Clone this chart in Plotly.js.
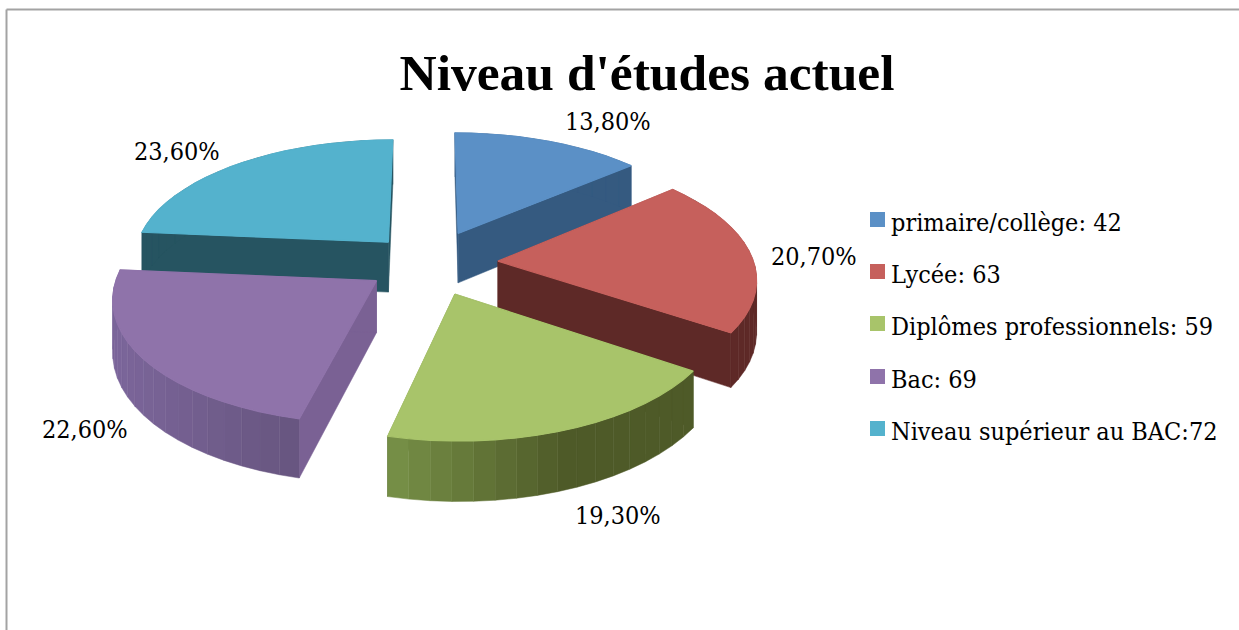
<!DOCTYPE html>
<html><head><meta charset="utf-8">
<script src="https://cdn.plot.ly/plotly-3.0.1.min.js"></script>
<style>html,body{margin:0;padding:0;background:#fff}#c{width:1239px;height:630px}</style>
</head><body><div id="c"></div>
<script>
const categories = ["primaire/collège: 42","Lycée: 63","Diplômes professionnels: 59","Bac: 69","Niveau supérieur au BAC:72"];
const values = [42,63,59,69,72];
const percentLabels = ["13,80%","20,70%","19,30%","22,60%","23,60%"];
const topColors = ["#5b90c6","#c6605c","#a8c46a","#8f73aa","#54b2cd"];
const sideColors = ["#355a80","#5e2927","#4e5a28","#7a6194","#265461"];
const titleText = "Niveau d'études actuel";

// projection of the tilted, exploded pie
const FONT = "'DejaVu Serif Condensed', 'Liberation Serif', serif";
const TITLE_FONT = "'Liberation Serif', serif";
const cx=429, cy=263, A=256, B=120, K=0.125, DEPTH=51;
const pull=[0.28,0.27,0.27,0.248,0.24];
const total=values.reduce((a,b)=>a+b,0);
function proj(u,v,d){const w=1+K*v;return [cx+A*u/w, cy+(-B*v+(d?DEPTH:0))/w];}
const traces=[];
function poly(pts,color,width,name){
  traces.push({type:'scatter',mode:'lines',x:pts.map(p=>p[0]),y:pts.map(p=>p[1]),fill:'toself',fillcolor:color,
    line:{color:color,width:width},hoverinfo:'skip',showlegend:false,name:name||''});
}
function hex(c){return [1,3,5].map(i=>parseInt(c.substr(i,2),16));}
function mix(a,b,t){const A1=hex(a),B1=hex(b);return 'rgb('+A1.map((x,i)=>Math.round(x+(B1[i]-x)*t)).join(',')+')';}
function wallColor(i,x){
  if(i===2){const t=Math.min(1,Math.max(0,(x-387)/178));return mix("#789148","#4e5a28",t);}
  if(i===3){const t=Math.min(1,Math.max(0,(x-110)/190));return mix("#7c669b","#67557f",t);}
  return sideColors[i];
}
let acc=0;const slices=values.map((val,i)=>{const a0=acc/total*2*Math.PI;acc+=val;const a1=acc/total*2*Math.PI;return {i,a0,a1};});
const order=[0,4,1,3,2];
order.forEach(i=>{
  const {a0,a1}=slices[i];
  const mid=(a0+a1)/2, ou=pull[i]*Math.sin(mid), ov=pull[i]*Math.cos(mid);
  const n=Math.max(8,Math.round((a1-a0)/(Math.PI/45)));
  const arc=[];for(let k=0;k<=n;k++){const t=a0+(a1-a0)*k/n;arc.push([ou+Math.sin(t),ov+Math.cos(t)]);}
  const ap=proj(ou,ov,0), apb=proj(ou,ov,1);
  // radial sides first: a hidden one ends up under the wall or the top
  [arc[0],arc[n]].forEach(e=>{
    const a=proj(e[0],e[1],0),b=proj(e[0],e[1],1);
    poly([ap,a,b,apb,ap],sideColors[i],0.5);
  });
  // outer wall
  for(let k=0;k<n;k++){
    const p=[proj(arc[k][0],arc[k][1],0),proj(arc[k+1][0],arc[k+1][1],0),proj(arc[k+1][0],arc[k+1][1],1),proj(arc[k][0],arc[k][1],1)];
    poly(p.concat([p[0]]),wallColor(i,(p[0][0]+p[1][0])/2),0.5);
  }
  // top face
  const top=[ap].concat(arc.map(p=>proj(p[0],p[1],0)));top.push(ap);
  poly(top,topColors[i],1.2,categories[i]);
});

// legend swatches
const legendX=877.5, legendY=[219.5,271.5,323.5,376.5,428.5];
traces.push({type:'scatter',mode:'markers',x:legendY.map(()=>legendX),y:legendY,
  marker:{symbol:'square',size:15,color:topColors,line:{width:0}},hoverinfo:'skip',showlegend:false});

const labelPos=[[608,121],[814,256],[618,515],[85,429],[177,151]];
const annotations=percentLabels.map((t,i)=>({text:t,x:labelPos[i][0],y:labelPos[i][1],xref:'x',yref:'y',showarrow:false,
  xanchor:'center',yanchor:'middle',font:{family:FONT,size:25,color:'#000'}}))
 .concat(categories.map((t,i)=>({text:t,x:889,y:legendY[i]+2.5,xref:'x',yref:'y',showarrow:false,
  xanchor:'left',yanchor:'middle',font:{family:FONT,size:25,color:'#000'}})));

const layout={width:1239,height:630,margin:{l:0,r:0,t:0,b:0},paper_bgcolor:'#fff',plot_bgcolor:'#fff',showlegend:false,
  title:{text:titleText,x:647/1239,xanchor:'center',y:1-72/630,yanchor:'middle',font:{family:TITLE_FONT,size:51.5,color:'#000',weight:700}},
  xaxis:{range:[0,1239],visible:false,fixedrange:true},
  yaxis:{range:[630,0],visible:false,fixedrange:true},
  annotations,
  shapes:[
    {type:'line',xref:'x',yref:'y',x0:6.5,x1:6.5,y0:9.5,y1:630,line:{color:'#a3a3a3',width:2}},
    {type:'line',xref:'x',yref:'y',x0:6.5,x1:1239,y0:9.5,y1:9.5,line:{color:'#a3a3a3',width:2}}
  ]};
Plotly.newPlot('c',traces,layout,{displayModeBar:false,staticPlot:true});
</script></body></html>
